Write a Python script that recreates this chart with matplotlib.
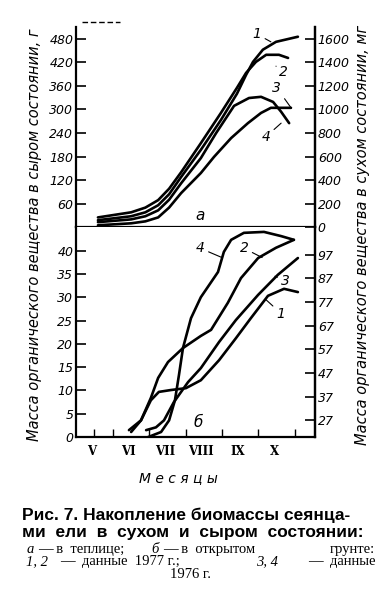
import matplotlib
matplotlib.use('Agg')
import matplotlib.pyplot as plt
from matplotlib.lines import Line2D

# месяцы (начало месяца = целое число)
months = ['V', 'VI', 'VII', 'VIII', 'IX', 'X']
month_num = [5, 6, 7, 8, 9, 10]

# а - в теплице, масса в сыром состоянии, г
a1_x = [5.60, 6.51, 6.90, 7.25, 7.55, 7.88, 8.42, 8.97, 9.41, 9.66, 9.85, 10.12, 10.48, 11.08]
a1_y = [18, 28, 38, 56, 84, 128, 197, 273, 340, 388, 421, 452, 472, 485]
a2_x = [5.60, 6.51, 6.90, 7.25, 7.55, 7.88, 8.42, 8.97, 9.41, 9.66, 9.93, 10.21, 10.56, 10.81]
a2_y = [25, 38, 50, 69, 98, 140, 214, 291, 355, 393, 421, 439, 439, 431]
a3_x = [5.60, 6.51, 6.90, 7.25, 7.55, 7.88, 8.42, 8.78, 9.25, 9.71, 10.07, 10.34, 10.89]
a3_y = [5, 10, 15, 25, 50, 87, 138, 179, 227, 265, 291, 304, 304]
a4_x = [5.60, 6.51, 6.90, 7.25, 7.55, 7.88, 8.42, 8.84, 9.33, 9.74, 10.07, 10.40, 10.62, 10.84]
a4_y = [13, 20, 28, 43, 70, 112, 176, 240, 309, 329, 332, 319, 294, 265]

# б - в открытом грунте, г
b1_x = [6.51, 6.78, 7.05, 7.27, 7.60, 8.01, 8.42, 8.92, 9.38, 9.79, 10.26, 10.70, 11.08]
b1_y = [1.1, 3.6, 7.9, 9.7, 10.1, 10.5, 12.2, 16.5, 21.2, 25.5, 30.3, 31.8, 31.1]
b2_x = [6.45, 6.78, 7.05, 7.25, 7.52, 7.93, 8.42, 8.70, 9.16, 9.52, 9.99, 10.48, 10.97]
b2_y = [1.5, 3.6, 8.4, 12.7, 16.1, 19.1, 21.7, 23.0, 28.8, 34.1, 38.4, 40.6, 42.3]
b3_x = [6.92, 7.19, 7.41, 7.68, 8.07, 8.42, 8.92, 9.38, 9.99, 10.53, 11.08]
b3_y = [1.5, 2.1, 3.6, 7.5, 11.8, 14.8, 20.4, 25.1, 30.5, 34.8, 38.4]
b4_x = [6.97, 7.33, 7.55, 7.71, 7.82, 7.93, 8.15, 8.42, 8.89, 9.05, 9.25, 9.60, 10.15, 10.62, 10.97]
b4_y = [0, 1.1, 3.6, 7.9, 13.3, 19.1, 25.5, 30.0, 35.4, 39.7, 42.3, 43.8, 44.0, 43.1, 42.3]

lw = 1.9

fig = plt.figure(figsize=(3.88, 5.98), dpi=100)
ax_a = fig.add_axes([0.196, 0.620, 0.616, 0.335])
ax_b = fig.add_axes([0.196, 0.269, 0.616, 0.351])
ax_a2 = ax_a.twinx()
ax_b2 = ax_b.twinx()

for ax in [ax_a, ax_b]:
    ax.set_xlim(5, 11.55)
    ax.spines['top'].set_visible(False)
    for s in ax.spines.values():
        s.set_linewidth(1.6)
for ax in [ax_a2, ax_b2]:
    for k in ['top', 'left', 'bottom']:
        ax.spines[k].set_visible(False)
    ax.spines['right'].set_linewidth(1.6)

# верхний график
for x, y in [(a1_x, a1_y), (a2_x, a2_y), (a3_x, a3_y), (a4_x, a4_y)]:
    ax_a.plot(x, y, color='black', lw=lw, solid_capstyle='round', solid_joinstyle='round')
ax_a.set_ylim(0, 510)
ax_a.set_yticks(range(60, 481, 60))
ax_a.set_xticks([])
ax_a2.set_ylim(0, 1700)
ax_a2.set_yticks(range(0, 1601, 200))

# нижний график
for x, y in [(b1_x, b1_y), (b2_x, b2_y), (b3_x, b3_y), (b4_x, b4_y)]:
    ax_b.plot(x, y, color='black', lw=lw, solid_capstyle='round', solid_joinstyle='round')
ax_b.set_ylim(0, 45)
ax_b.set_yticks(range(0, 41, 5))
ax_b2.set_ylim(19.8, 108.7)
ax_b2.set_yticks(range(27, 98, 10))

ax_b.set_xticks([5.5] + [m + 1 for m in month_num])
ax_b.set_xticklabels([])
ax_b.set_xticks([m + 0.43 for m in month_num], minor=True)
ax_b.set_xticklabels(months, minor=True, family='DejaVu Serif', size=8.5, weight='bold')
ax_b.tick_params(axis='x', which='major', direction='in', length=6, width=1)
ax_b.tick_params(axis='x', which='minor', length=0, pad=6)

for ax in [ax_a, ax_b, ax_a2, ax_b2]:
    ax.tick_params(axis='y', direction='in', length=7, width=1.2, pad=2)
    for t in ax.get_yticklabels():
        t.set_fontstyle('italic')
        t.set_fontsize(9)

# буквы панелей
ax_a.text(8.4, 12, 'а', style='italic', fontsize=11, ha='center', va='bottom')
ax_b.text(8.35, 1.5, 'б', style='italic', fontsize=11, ha='center', va='bottom')

# подписи кривых
arr = dict(arrowstyle='-', lw=0.8, color='black', shrinkA=1, shrinkB=0)
ax_a.annotate('1', xy=(10.34, 472), xytext=(9.95, 492), fontsize=10, style='italic', ha='center', va='center', arrowprops=arr)
ax_a.annotate('2', xy=(10.48, 410), xytext=(10.68, 395), fontsize=10, style='italic', ha='center', va='center', arrowprops=arr)
ax_a.annotate('3', xy=(10.9, 303), xytext=(10.5, 355), fontsize=10, style='italic', ha='center', va='center', arrowprops=arr)
ax_a.annotate('4', xy=(10.62, 265), xytext=(10.2, 230), fontsize=10, style='italic', ha='center', va='center', arrowprops=arr)
ax_b.annotate('4', xy=(9.0, 38.5), xytext=(8.4, 40.5), fontsize=10, style='italic', ha='center', va='center', arrowprops=arr)
ax_b.annotate('2', xy=(10.1, 38.5), xytext=(9.6, 40.5), fontsize=10, style='italic', ha='center', va='center', arrowprops=arr)
ax_b.annotate('3', xy=(10.45, 34.5), xytext=(10.75, 33.5), fontsize=10, style='italic', ha='center', va='center', arrowprops=arr)
ax_b.annotate('1', xy=(10.2, 29.5), xytext=(10.62, 26.5), fontsize=10, style='italic', ha='center', va='center', arrowprops=arr)

# подписи осей
fig.text(0.09, 0.607, 'Масса органического вещества в сыром состоянии, г',
         rotation=90, ha='center', va='center', style='italic', fontsize=10.5)
fig.text(0.935, 0.607, 'Масса органического вещества в сухом состоянии, мг',
         rotation=90, ha='center', va='center', style='italic', fontsize=10.5)
fig.text(0.46, 0.2, 'М е с я ц ы', ha='center', va='center', style='italic', fontsize=10)

fig.add_artist(Line2D([0.212, 0.31], [0.963, 0.963], color='black', lw=1, ls=(0, (4, 2))))

# подпись рисунка
cap_bold = dict(family='Liberation Sans', weight='bold', fontsize=12.5, va='center')
fig.text(0.057, 0.139, 'Рис. 7. Накопление биомассы сеянца-', ha='left', **cap_bold)
fig.text(0.057, 0.109, 'ми  ели  в  сухом  и  сыром  состоянии:', ha='left', **cap_bold)

cap = dict(family='Liberation Serif', fontsize=10.5, va='center')
fig.text(0.068, 0.081, 'а', ha='left', style='italic', **cap)
fig.text(0.097, 0.081, '— в  теплице;', ha='left', **cap)
fig.text(0.39, 0.081, 'б', ha='left', style='italic', **cap)
fig.text(0.42, 0.081, '— в  открытом', ha='left', **cap)
fig.text(0.967, 0.081, 'грунте:', ha='right', **cap)
fig.text(0.068, 0.061, '1, 2', ha='left', style='italic', **cap)
fig.text(0.155, 0.061, '—  данные  1977 г.;', ha='left', **cap)
fig.text(0.66, 0.061, '3, 4', ha='left', style='italic', **cap)
fig.text(0.967, 0.061, '—  данные', ha='right', **cap)
fig.text(0.49, 0.039, '1976 г.', ha='center', **cap)

fig.savefig('out.png', dpi=100)
